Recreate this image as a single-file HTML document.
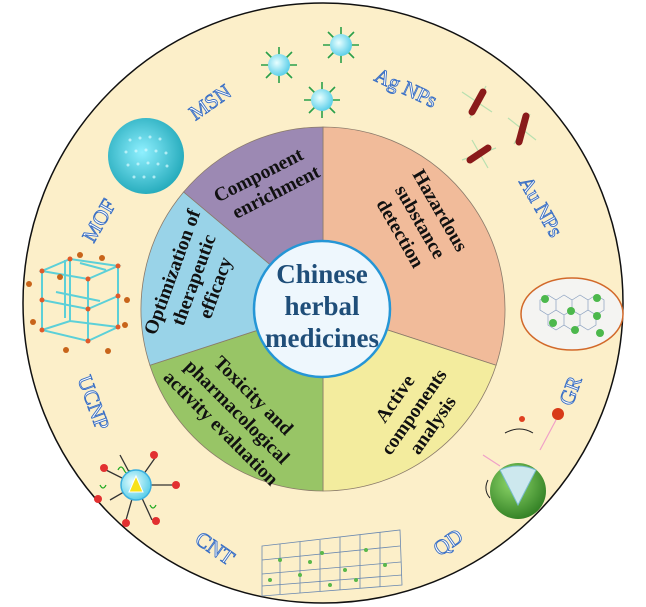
<!DOCTYPE html>
<html><head><meta charset="utf-8"><style>
html,body{margin:0;padding:0;background:#fff;}
svg{display:block;}
.seg{font-family:"Liberation Serif",serif;font-weight:bold;font-size:19.5px;fill:#111;text-anchor:middle;}
.lab{font-family:"Liberation Serif",serif;font-size:21px;fill:#fff;stroke:#3a6fc4;stroke-width:0.9;text-anchor:middle;}
.ctr{font-family:"Liberation Serif",serif;font-weight:bold;font-size:27px;fill:#1f4e79;text-anchor:middle;}
</style></head><body>
<svg width="646" height="607" viewBox="0 0 646 607" xmlns="http://www.w3.org/2000/svg">
<circle cx="323" cy="303" r="300" fill="#fcefc9" stroke="#111" stroke-width="1.5"/>
<g stroke="#8a7a6a" stroke-width="0.8">
<path d="M323,309 L323,127 A182,182 0 0 1 496.1,365.2 Z" fill="#f1bb9a"/>
<path d="M323,309 L496.1,365.2 A182,182 0 0 1 323,491 Z" fill="#f3ec9e"/>
<path d="M323,309 L323,491 A182,182 0 0 1 149.9,365.2 Z" fill="#98c566"/>
<path d="M323,309 L149.9,365.2 A182,182 0 0 1 183.6,192.0 Z" fill="#99d3e8"/>
<path d="M323,309 L183.6,192.0 A182,182 0 0 1 323,127 Z" fill="#9c89b3"/>
</g>
<circle cx="322" cy="309" r="68" fill="#eef7fd" stroke="#2596d6" stroke-width="2.5"/>
<text class="ctr" x="322" y="283">Chinese</text>
<text class="ctr" x="322" y="315">herbal</text>
<text class="ctr" x="322" y="347">medicines</text>

<g transform="translate(264,186) rotate(-27)"><text class="seg" x="0" y="-6">Component</text><text class="seg" x="8" y="17">enrichment</text></g>
<g transform="translate(420,222) rotate(60)"><text class="seg" x="0" y="-17">Hazardous</text><text class="seg" x="0" y="6">substance</text><text class="seg" x="0" y="29">detection</text></g>
<g transform="translate(414,412) rotate(-55)"><text class="seg" x="0" y="-17">Active</text><text class="seg" x="0" y="6">components</text><text class="seg" x="0" y="29">analysis</text></g>
<g transform="translate(237,412) rotate(45)"><text class="seg" x="0" y="-17">Toxicity and</text><text class="seg" x="0" y="6">pharmacological</text><text class="seg" x="0" y="29">activity evaluation</text></g>
<g transform="translate(194,280) rotate(-70)"><text class="seg" x="0" y="-17">Optimization of</text><text class="seg" x="0" y="6">therapeutic</text><text class="seg" x="0" y="29">efficacy</text></g>

<g transform="translate(214,108) rotate(-35)"><text class="lab">MSN</text></g>
<g transform="translate(403,94) rotate(25)"><text class="lab">Ag NPs</text></g>
<g transform="translate(535,210) rotate(60)"><text class="lab">Au NPs</text></g>
<g transform="translate(577,393) rotate(-70)"><text class="lab">GR</text></g>
<g transform="translate(452,548) rotate(-35)"><text class="lab">QD</text></g>
<g transform="translate(211,554) rotate(35)"><text class="lab">CNT</text></g>
<g transform="translate(87,405) rotate(70)"><text class="lab">UCNP</text></g>
<g transform="translate(105,224) rotate(-60)"><text class="lab">MOF</text></g>

<defs>
<radialGradient id="cy" cx="0.45" cy="0.45" r="0.6"><stop offset="0" stop-color="#8ff0ff"/><stop offset="1" stop-color="#1fa7b8"/></radialGradient>
<radialGradient id="lb" cx="0.4" cy="0.4" r="0.6"><stop offset="0" stop-color="#e8ffff"/><stop offset="1" stop-color="#5fd0ea"/></radialGradient>
<radialGradient id="gr" cx="0.4" cy="0.35" r="0.7"><stop offset="0" stop-color="#8fd86a"/><stop offset="1" stop-color="#2f7d22"/></radialGradient>
</defs>
<circle cx="146" cy="156" r="38" fill="url(#cy)"/>
<g fill="#d8fbff" opacity="0.7">
<circle cx="130" cy="140" r="1.5"/><circle cx="140" cy="138" r="1.5"/><circle cx="150" cy="137" r="1.5"/><circle cx="160" cy="139" r="1.5"/>
<circle cx="126" cy="152" r="1.5"/><circle cx="136" cy="151" r="1.5"/><circle cx="146" cy="150" r="1.5"/><circle cx="156" cy="151" r="1.5"/><circle cx="166" cy="153" r="1.5"/>
<circle cx="128" cy="165" r="1.5"/><circle cx="138" cy="164" r="1.5"/><circle cx="148" cy="163" r="1.5"/><circle cx="158" cy="164" r="1.5"/><circle cx="167" cy="166" r="1.5"/>
<circle cx="134" cy="177" r="1.5"/><circle cx="144" cy="177" r="1.5"/><circle cx="154" cy="177" r="1.5"/>
</g>
<g stroke="#2aa04a" stroke-width="1.6">
<path d="M279,47 V83 M261,65 H297 M266,52 L292,78 M292,52 L266,78"/>
<path d="M341,27 V63 M323,45 H359 M328,32 L354,58 M354,32 L328,58"/>
<path d="M322,82 V118 M304,100 H340 M309,87 L335,113 M335,87 L309,113"/>
</g>
<circle cx="279" cy="65" r="11" fill="url(#lb)"/>
<circle cx="341" cy="45" r="11" fill="url(#lb)"/>
<circle cx="322" cy="100" r="11" fill="url(#lb)"/>
<g stroke="#b8e0b0" stroke-width="1.2">
<path d="M462,92 L492,112 M470,118 L486,86 M508,118 L536,140 M514,144 L530,114 M462,160 L496,148 M472,140 L488,168"/>
</g>
<g stroke="#8a1a1a" stroke-width="7" stroke-linecap="round">
<line x1="483" y1="92" x2="472" y2="112"/><line x1="526" y1="116" x2="519" y2="142"/><line x1="470" y1="160" x2="488" y2="148"/>
</g>
<ellipse cx="572" cy="314" rx="51" ry="36" fill="#f4f4f2" stroke="#d2692a" stroke-width="1.5"/>
<g fill="none" stroke="#8aa0c0" stroke-width="0.7">
<path d="M540,300 l8,-5 8,5 0,10 -8,5 -8,-5 z M556,300 l8,-5 8,5 0,10 -8,5 -8,-5z M572,300 l8,-5 8,5 0,10 -8,5 -8,-5z M588,300 l8,-5 8,5 0,10 -8,5 -8,-5z M548,315 l8,-5 8,5 0,10 -8,5 -8,-5z M564,315 l8,-5 8,5 0,10 -8,5 -8,-5z M580,315 l8,-5 8,5 0,10 -8,5 -8,-5z"/>
</g>
<g fill="#4cb84c"><circle cx="545" cy="299" r="4"/><circle cx="571" cy="311" r="4"/><circle cx="597" cy="298" r="4"/><circle cx="553" cy="323" r="4"/><circle cx="575" cy="330" r="4"/><circle cx="597" cy="316" r="4"/><circle cx="600" cy="333" r="4"/></g>
<g stroke="#5cd0d8" stroke-width="2" fill="none">
<path d="M42,271 L88,279 L118,266 L70,259 Z M42,271 V330 L88,341 L118,327 V266 M88,279 V341 M42,300 L88,309 L118,296 M65,260 V318 M70,259 V321 M42,330 L70,321 L118,327 M56,292 L100,301 M80,263 L106,270"/>
</g>
<g fill="#e05a2a"><circle cx="42" cy="271" r="2.5"/><circle cx="88" cy="279" r="2.5"/><circle cx="118" cy="266" r="2.5"/><circle cx="70" cy="259" r="2.5"/><circle cx="42" cy="330" r="2.5"/><circle cx="88" cy="341" r="2.5"/><circle cx="118" cy="327" r="2.5"/><circle cx="42" cy="300" r="2.5"/><circle cx="88" cy="309" r="2.5"/><circle cx="118" cy="296" r="2.5"/></g>
<g fill="#c8641a"><circle cx="80" cy="255" r="3"/><circle cx="102" cy="258" r="3"/><circle cx="29" cy="284" r="3"/><circle cx="127" cy="300" r="3"/><circle cx="33" cy="322" r="3"/><circle cx="125" cy="325" r="3"/><circle cx="66" cy="350" r="3"/><circle cx="108" cy="351" r="3"/><circle cx="60" cy="277" r="3"/></g>
<g stroke-width="1.3">
<path d="M136,485 L106,470 M136,485 L174,485 M136,485 L110,500 M136,485 L152,520 M136,485 L126,520 M136,485 L155,458 M136,485 L120,455" stroke="#333"/>
<path d="M118,470 q3,-6 6,0 t6,0 M150,505 q3,6 6,0 M100,485 q3,6 6,0" stroke="#2a2" fill="none"/>
</g>
<g fill="#e23030"><circle cx="104" cy="468" r="4"/><circle cx="176" cy="485" r="4"/><circle cx="98" cy="499" r="4"/><circle cx="126" cy="523" r="4"/><circle cx="156" cy="521" r="4"/><circle cx="154" cy="455" r="4"/></g>
<circle cx="136" cy="485" r="15" fill="url(#lb)" stroke="#3ab0e0" stroke-width="1.5"/>
<path d="M129,492 L136,476 L143,492 Z" fill="#f7e21a" stroke="#fff" stroke-width="1"/>
<g fill="none" stroke="#6a88b0" stroke-width="0.8">
<path d="M262,546 L400,530 L402,585 L262,596 Z"/>
<path d="M262,560 L400,546 M262,574 L401,562 M262,586 L402,575 M280,544 V594 M300,542 V593 M320,540 V591 M340,537 V590 M360,535 V588 M380,532 V587"/>
</g>
<g fill="#5ab84a"><circle cx="280" cy="560" r="2"/><circle cx="300" cy="575" r="2"/><circle cx="322" cy="553" r="2"/><circle cx="345" cy="570" r="2"/><circle cx="366" cy="550" r="2"/><circle cx="385" cy="565" r="2"/><circle cx="270" cy="580" r="2"/><circle cx="330" cy="585" r="2"/><circle cx="356" cy="580" r="2"/><circle cx="310" cy="562" r="2"/></g>
<circle cx="518" cy="491" r="28" fill="url(#gr)"/>
<path d="M500,470 Q518,462 536,470 L518,505 Z" fill="#cde8ee" stroke="#7bc" stroke-width="1"/>
<circle cx="522" cy="419" r="3" fill="#e04020"/>
<circle cx="558" cy="414" r="6" fill="#d83a18"/>
<path d="M505,433 q15,-8 28,0 M488,480 q-5,10 2,18" stroke="#222" fill="none" stroke-width="1"/>
<path d="M540,450 L556,420 M483,455 L500,466" stroke="#f0a0c8" stroke-width="1.2"/>
</svg>
</body></html>
